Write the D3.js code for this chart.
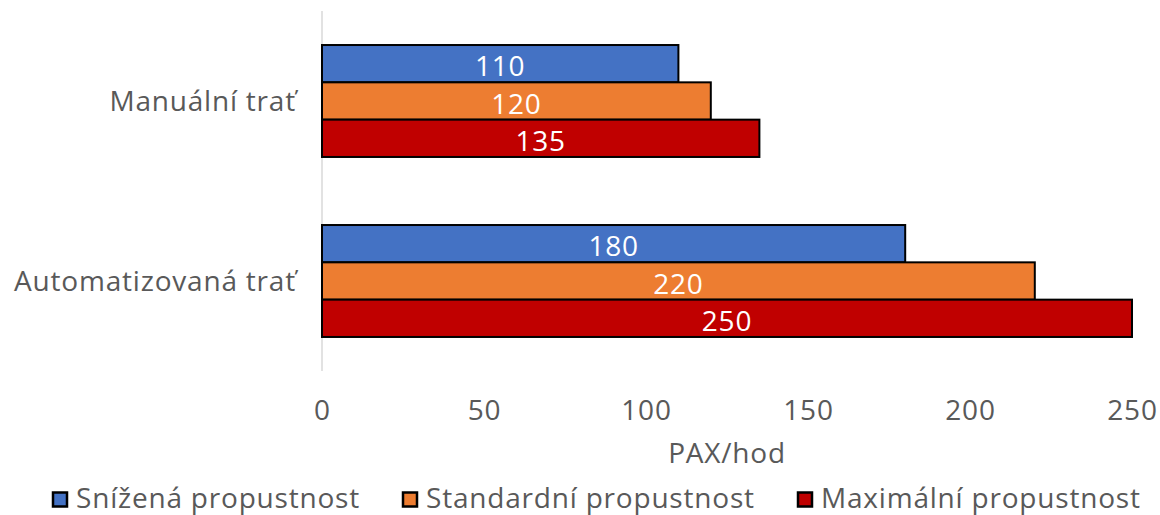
<!DOCTYPE html>
<html><head><meta charset="utf-8">
<script src="https://cdn.jsdelivr.net/npm/d3@7"></script>
<style>body{margin:0;background:#fff;} text{font-family:"Open Sans",sans-serif;letter-spacing:0.8px;}</style>
</head><body><svg id="c" width="1160" height="515"></svg>
<script>
const categories = ["Manuální trať", "Automatizovaná trať"];
const seriesNames = ["Snížená propustnost", "Standardní propustnost", "Maximální propustnost"];
const seriesColors = ["#4472C4", "#ED7D31", "#C00000"];
const reduced = [110, 180];
const standard = [120, 220];
const maximum = [135, 250];
const xTicks = [0, 50, 100, 150, 200, 250];
const axisTitle = "PAX/hod";

const values = [reduced, standard, maximum];
const fs = 28;
const svg = d3.select("#c");
const x = d3.scaleLinear().domain([0, 250]).range([322, 1132]);
const y = d3.scaleBand().domain(categories).range([11, 371]).paddingInner(0.378).paddingOuter(0.189);
const ys = d3.scaleBand().domain(d3.range(3)).range([0, y.bandwidth()]);

svg.append("line").attr("x1", x(0)).attr("x2", x(0)).attr("y1", 11).attr("y2", 371)
  .attr("stroke", "#d9d9d9").attr("stroke-width", 1.5);

const g = svg.append("g");
categories.forEach((c, ci) => {
  values.forEach((vals, si) => {
    const v = vals[ci];
    g.append("rect").attr("x", x(0)).attr("y", y(c) + ys(si))
      .attr("width", x(v) - x(0)).attr("height", ys.bandwidth())
      .attr("fill", seriesColors[si]).attr("stroke", "#000").attr("stroke-width", 2);
    g.append("text").attr("x", x(v / 2)).attr("y", y(c) + ys(si) + ys.bandwidth() / 2 + 12.5)
      .attr("text-anchor", "middle").attr("fill", "#fff")
      .attr("font-size", fs).text(v);
  });
  svg.append("text").attr("x", 296).attr("y", y(c) + y.bandwidth() / 2 + 10)
    .attr("text-anchor", "end").attr("fill", "#595959").attr("font-size", fs).text(c);
});

const ax = svg.append("g").attr("transform", "translate(0,420)")
  .call(d3.axisBottom(x).tickValues(xTicks).tickSize(0).tickPadding(0));
ax.select(".domain").remove();
ax.selectAll("text").attr("dy", 0).attr("font-size", fs).attr("fill", "#595959").attr("font-family", "Open Sans");

svg.append("text").attr("x", (x(0) + x(250)) / 2).attr("y", 463)
  .attr("text-anchor", "middle").attr("fill", "#595959").attr("font-size", fs).text(axisTitle);

const legX = [53, 403, 798];
seriesNames.forEach((n, i) => {
  svg.append("rect").attr("x", legX[i]).attr("y", 492.5).attr("width", 14).attr("height", 14)
    .attr("fill", seriesColors[i]).attr("stroke", "#000").attr("stroke-width", 2.5);
  svg.append("text").attr("x", legX[i] + 23).attr("y", 507.5)
    .attr("fill", "#595959").attr("font-size", fs).text(n);
});
</script></body></html>
